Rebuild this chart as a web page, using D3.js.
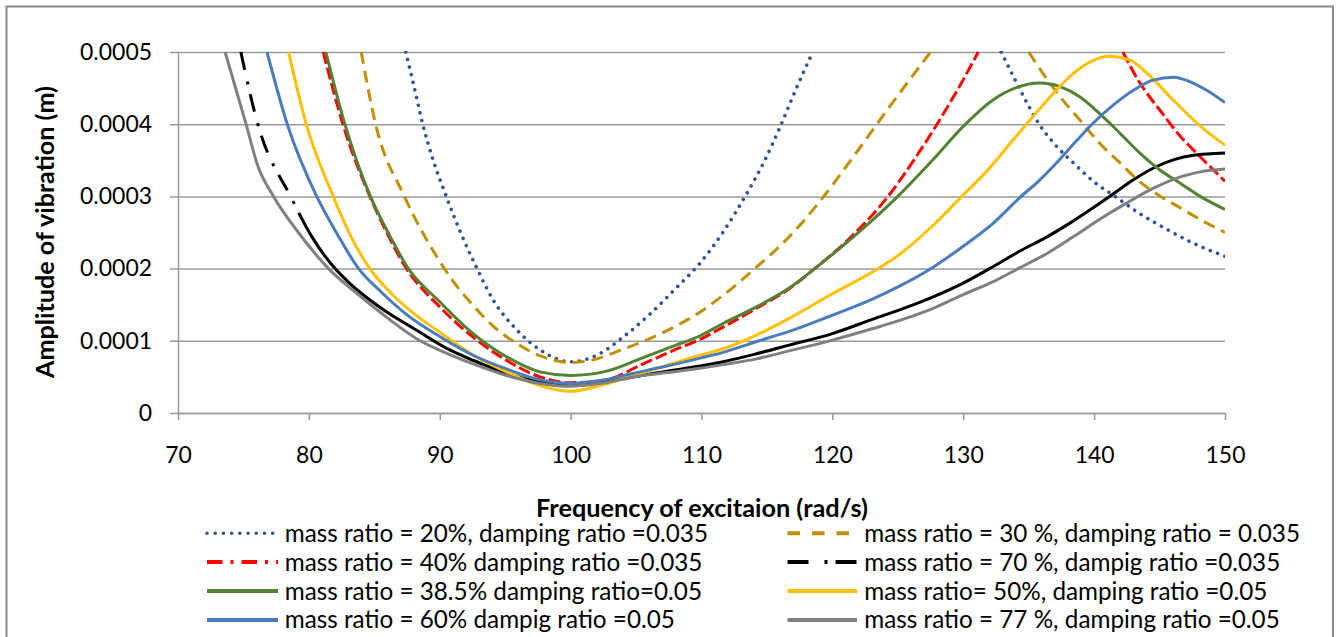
<!DOCTYPE html>
<html>
<head>
<meta charset="utf-8">
<script src="https://cdn.jsdelivr.net/npm/d3@7"></script>
<style>
  body { margin: 0; background: #fff; }
  svg { display: block; }
  text { font-family: Lato, "Open Sans", sans-serif; fill: #000; }
</style>
</head>
<body>
<div id="chart"></div>
<script>
// amplitudes are read in units of 1e-4 m, null = off the top of the chart
const UNIT = 1e-4;

const xTicks = [70, 80, 90, 100, 110, 120, 130, 140, 150];
const yTicks = [0, 0.0001, 0.0002, 0.0003, 0.0004, 0.0005];

const f20 = [87.4, 88.0, 88.7, 89.5, 90.5, 91.5, 92.9, 94.1, 95.9, 97.7, 100, 102, 104, 106, 108, 110, 111.7, 113.3, 114.7, 116, 117.3, 118.5, 125, 132.9, 134.0, 135.0, 135.8, 137.0, 138.5, 140.0, 141.6, 143.5, 145.5, 147.6, 150];
const a20 = [5.0, 4.55, 4.0, 3.5, 3.0, 2.54, 1.98, 1.56, 1.15, 0.87, 0.71, 0.80, 1.05, 1.36, 1.72, 2.10, 2.52, 2.99, 3.45, 3.96, 4.52, 5.0, null, 5.0, 4.6, 4.25, 4.0, 3.72, 3.45, 3.2, 3.0, 2.76, 2.55, 2.35, 2.17];

const f30 = [84.0, 85.1, 87.3, 90, 91, 92.5, 94.1, 95.9, 97.7, 100, 102, 103.8, 105.8, 107.9, 109.9, 111.65, 114.2, 116.7, 119.3, 121.8, 124.4, 127.5, 131, 135.0, 136.1, 137.4, 138.9, 140.4, 142, 143.5, 145, 146.6, 148.1, 150];
const a30 = [5.0, 4.0, 3.0, 2.1, 1.83, 1.50, 1.20, 0.96, 0.79, 0.70, 0.75, 0.87, 1.01, 1.19, 1.40, 1.63, 2.02, 2.44, 2.99, 3.60, 4.25, 5.0, null, 5.0, 4.70, 4.38, 4.06, 3.74, 3.46, 3.20, 3.01, 2.84, 2.68, 2.50];

const f40 = [81.1, 82.6, 84.66, 85.95, 87.46, 90, 92.55, 95.1, 97.65, 100, 102.75, 105.3, 107.9, 109.9, 111.65, 114.2, 116.7, 118.65, 121.5, 124.25, 126.4, 128.0, 129.7, 131.15, 137, 142.2, 143.5, 145.0, 146.6, 148.1, 150];
const a40 = [5.0, 4.0, 3.0, 2.5, 2.0, 1.47, 1.05, 0.73, 0.50, 0.42, 0.46, 0.66, 0.87, 1.02, 1.19, 1.45, 1.72, 2.0, 2.45, 3.0, 3.55, 4.0, 4.52, 5.0, null, 5.0, 4.57, 4.20, 3.83, 3.55, 3.21];

const f70 = [74.8, 76.1, 78.6, 80.2, 82.0, 83.1, 85.7, 88.2, 90.8, 92.55, 95.1, 97.65, 100, 102.25, 104.8, 107.35, 109.9, 111.65, 114.2, 116.7, 120, 123.1, 125.6, 127.7, 130, 132.3, 134.3, 136.4, 138.15, 139.9, 141.5, 143.0, 144.5, 146.1, 147.6, 150];
const a70 = [5.0, 4.0, 3.0, 2.45, 2.0, 1.80, 1.43, 1.15, 0.87, 0.73, 0.55, 0.43, 0.38, 0.42, 0.50, 0.58, 0.65, 0.71, 0.82, 0.94, 1.10, 1.30, 1.46, 1.61, 1.80, 2.03, 2.24, 2.44, 2.63, 2.84, 3.04, 3.23, 3.39, 3.51, 3.57, 3.60];

const f385 = [81.3, 82.75, 84.7, 86.05, 87.6, 90, 92.55, 95.1, 97.65, 100, 102.75, 105.3, 107.9, 109.9, 111.65, 114.2, 116.7, 118.65, 121.8, 125, 127.7, 130, 132.3, 134.1, 135.86, 137.4, 138.9, 140.4, 142, 143.5, 145, 146.6, 148.1, 150];
const a385 = [5.0, 4.0, 3.0, 2.5, 2.0, 1.54, 1.10, 0.78, 0.57, 0.52, 0.58, 0.75, 0.93, 1.07, 1.24, 1.47, 1.73, 2.0, 2.47, 3.0, 3.51, 3.97, 4.34, 4.51, 4.57, 4.52, 4.38, 4.15, 3.87, 3.60, 3.37, 3.18, 3.0, 2.82];

const f50 = [78.45, 79.8, 81.86, 83.2, 84.66, 86.5, 88, 90, 92.55, 95.1, 97.65, 100, 102.25, 104.8, 107.35, 109.9, 111.65, 114.2, 116.7, 119.8, 123.5, 125.16, 127.7, 130, 131.9, 133.8, 135.35, 136.9, 138.4, 139.9, 141.2, 142.7, 144.2, 145.8, 147.3, 148.6, 150];
const a50 = [5.0, 4.0, 3.0, 2.45, 2.0, 1.62, 1.38, 1.12, 0.80, 0.57, 0.38, 0.30, 0.38, 0.52, 0.66, 0.80, 0.89, 1.08, 1.31, 1.63, 2.0, 2.2, 2.6, 3.02, 3.37, 3.78, 4.11, 4.43, 4.70, 4.88, 4.94, 4.89, 4.68, 4.38, 4.11, 3.90, 3.71];

const f60 = [76.8, 78.35, 80.6, 82.1, 83.8, 85.5, 87.5, 90, 92.55, 95.1, 97.65, 100, 102.25, 104.8, 107.35, 109.9, 111.65, 114.4, 116.7, 119.8, 123.1, 125.16, 127.7, 130, 132.3, 134.3, 135.86, 137.1, 138.7, 139.9, 141.5, 143.0, 144.5, 146.1, 147.3, 148.6, 150];
const a60 = [5.0, 4.0, 3.0, 2.5, 2.0, 1.68, 1.36, 1.06, 0.80, 0.61, 0.46, 0.41, 0.45, 0.55, 0.65, 0.76, 0.84, 1.0, 1.13, 1.34, 1.58, 1.76, 2.02, 2.31, 2.63, 2.98, 3.23, 3.46, 3.78, 4.01, 4.27, 4.47, 4.61, 4.65, 4.59, 4.47, 4.30];

const f77 = [73.6, 75.2, 76.1, 77.3, 79.2, 81.5, 83.5, 85.7, 88.5, 90.76, 92.55, 95.1, 97.65, 100, 102.25, 104.8, 107.35, 109.9, 111.65, 114.2, 116.7, 120, 123.1, 125.6, 127.7, 130, 132.3, 134.3, 136.4, 138.4, 140.4, 142.5, 144.5, 146.6, 148.1, 150];
const a77 = [5.0, 4.0, 3.42, 3.0, 2.5, 2.0, 1.68, 1.36, 1.0, 0.81, 0.68, 0.52, 0.41, 0.37, 0.41, 0.50, 0.56, 0.62, 0.67, 0.75, 0.86, 1.01, 1.17, 1.31, 1.45, 1.64, 1.82, 2.01, 2.21, 2.44, 2.68, 2.91, 3.11, 3.27, 3.34, 3.38];

const labels = [
  'mass ratio = 20%, damping ratio =0.035',
  'mass ratio = 30 %, damping ratio = 0.035',
  'mass ratio = 40% damping ratio =0.035',
  'mass ratio = 70 %, dampig ratio =0.035',
  'mass ratio = 38.5% damping ratio=0.05',
  'mass ratio= 50%, damping ratio =0.05',
  'mass ratio = 60% dampig ratio =0.05',
  'mass ratio = 77 %, damping ratio =0.05'
];

const series = [
  { x: f20,  y: a20,  color: '#2f5597', width: 3.6, dash: '0.01 7.8', legendDash: '0.01 8.2', cap: 'round' },
  { x: f30,  y: a30,  color: '#bf9000', dash: '12 7', legendDash: '12.5 12' },
  { x: f40,  y: a40,  color: '#ff0000', dash: '12 4', legendDash: '15.5 8 3 8' },
  { x: f70,  y: a70,  color: '#000000', dashUntil: 78.6, pattern: [18, 12, 3, 10], legendDash: '21 16 3 8' },
  { x: f385, y: a385, color: '#548235' },
  { x: f50,  y: a50,  color: '#ffc000' },
  { x: f60,  y: a60,  color: '#4a7dba' },
  { x: f77,  y: a77,  color: '#808080' }
];

const gridColor = '#9a9a9a';

const svg = d3.select('#chart').append('svg')
  .attr('width', 1336)
  .attr('height', 637);

// outer chart frame (bottom edge is cut off in the original)
svg.append('rect')
  .attr('x', 6.5).attr('y', 6.5)
  .attr('width', 1326.5).attr('height', 700)
  .attr('fill', 'none')
  .attr('stroke', '#8a8a8a')
  .attr('stroke-width', 2);

const x = d3.scaleLinear().domain([70, 150]).range([178, 1225]);
const y = d3.scaleLinear().domain([0, 0.0005]).range([413, 52]);

const fmtY = d => d === 0 ? '0' : d3.format('.4f')(d);

const gy = svg.append('g')
  .attr('transform', `translate(${x(70)},0)`)
  .call(d3.axisLeft(y).tickValues(yTicks).tickFormat(fmtY).tickSizeOuter(0));

gy.select('.domain').attr('stroke', gridColor).attr('stroke-width', 1.5);
gy.selectAll('.tick line')
  .attr('x1', -8)
  .attr('x2', x(150) - x(70))
  .attr('stroke', gridColor)
  .attr('stroke-width', 1.5);
gy.selectAll('.tick text').attr('x', -26);

const gx = svg.append('g')
  .attr('transform', `translate(0,${y(0)})`)
  .call(d3.axisBottom(x).tickValues(xTicks).tickSizeInner(7).tickSizeOuter(0));

gx.select('.domain').attr('stroke', gridColor).attr('stroke-width', 1.5);
gx.selectAll('.tick line').attr('stroke', gridColor).attr('stroke-width', 1.5);
gx.selectAll('.tick text').attr('y', 50).attr('dy', 0);

svg.selectAll('.tick text')
  .attr('font-family', null)
  .style('font-size', '25px');

// fit the tick font to the width of "0.0005" in the original
const t5 = gy.selectAll('.tick text').filter(d => d === 0.0005);
const tickSize = 25 * 72 / t5.node().getComputedTextLength();
svg.selectAll('.tick text').style('font-size', tickSize + 'px');

svg.append('clipPath').attr('id', 'plotclip')
  .append('rect')
  .attr('x', x(70)).attr('y', y(0.0005) - 1)
  .attr('width', x(150) - x(70))
  .attr('height', y(0) - y(0.0005) + 1);

const line = d3.line()
  .defined(d => d[1] != null)
  .x(d => x(d[0]))
  .y(d => y(d[1]))
  .curve(d3.curveMonotoneX);

const plot = svg.append('g').attr('clip-path', 'url(#plotclip)');

// dash-dot only on the steep start of the curve, solid after xStop
function dashUntil(path, xStop, pattern) {
  const node = path.node();
  const L = node.getTotalLength();
  let lo = 0, hi = L;
  for (let k = 0; k < 30; k++) {
    const m = (lo + hi) / 2;
    if (node.getPointAtLength(m).x < xStop) lo = m; else hi = m;
  }
  const arr = [];
  let sum = 0;
  while (sum < lo) {
    for (const p of pattern) { arr.push(p); sum += p; }
  }
  arr.push(L, 0);
  path.attr('stroke-dasharray', arr.join(' '));
}

series.forEach(s => {
  const pts = d3.zip(s.x, s.y.map(v => v == null ? null : v * UNIT));
  const p = plot.append('path')
    .datum(pts)
    .attr('d', line)
    .attr('fill', 'none')
    .attr('stroke', s.color)
    .attr('stroke-width', s.width || 3)
    .attr('stroke-linecap', s.cap || 'butt')
    .attr('stroke-dasharray', s.dash || null);
  if (s.dashUntil) dashUntil(p, x(s.dashUntil), s.pattern);
});

// axis titles
const yTitle = svg.append('text')
  .attr('transform', 'translate(53.5,232) rotate(-90)')
  .attr('text-anchor', 'middle')
  .attr('font-weight', 'bold')
  .style('font-size', '25px')
  .text('Amplitude of vibration (m)');
yTitle.style('font-size', 25 * 292 / yTitle.node().getComputedTextLength() + 'px');

const xTitle = svg.append('text')
  .attr('x', 702).attr('y', 517)
  .attr('text-anchor', 'middle')
  .attr('font-weight', 'bold')
  .style('font-size', '25px')
  .text('Frequency of excitaion (rad/s)');
xTitle.style('font-size', 25 * 332 / xTitle.node().getComputedTextLength() + 'px');

// legend, two columns filled row by row
const colSym = [207, 787.5];
const colSymEnd = [278, 857];
const colText = [284.7, 864.3];
const legend = svg.append('g');

const items = legend.selectAll('g')
  .data(series)
  .join('g')
  .attr('transform', (d, i) => `translate(0,${541.7 + Math.floor(i / 2) * 28.9})`);

items.append('line')
  .attr('x1', (d, i) => colSym[i % 2])
  .attr('x2', (d, i) => colSymEnd[i % 2])
  .attr('y1', -8.5).attr('y2', -8.5)
  .attr('stroke', d => d.color)
  .attr('stroke-width', d => d.cap ? 3.6 : 4)
  .attr('stroke-linecap', d => d.cap || 'butt')
  .attr('stroke-dasharray', d => d.legendDash || null);

const legText = items.append('text')
  .attr('x', (d, i) => colText[i % 2])
  .attr('y', 0)
  .style('font-size', '25px')
  .text((d, i) => labels[i]);

const legSize = 25 * 423.5 / legText.node().getComputedTextLength();
legText.style('font-size', legSize + 'px');
</script>
</body>
</html>
